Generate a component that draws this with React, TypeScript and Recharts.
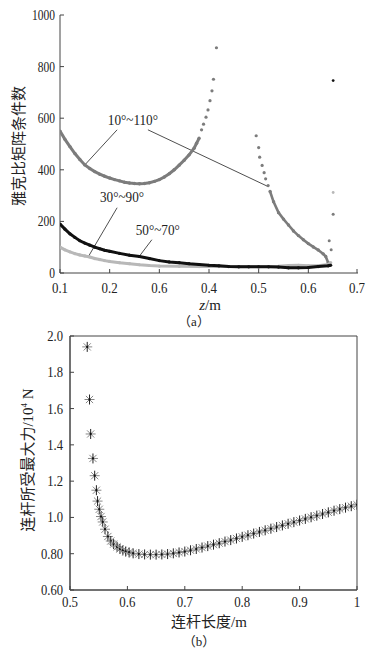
import {
  ScatterChart,
  Scatter,
  XAxis,
  YAxis,
  ReferenceLine,
  ReferenceDot,
  ReferenceArea,
  Label,
} from "recharts";

const serif = "'Liberation Serif', 'Times New Roman', serif";
const mixed = "'Liberation Serif', 'Noto Sans CJK SC', serif";

// ---- chart (a): Jacobian condition number vs z ----
const zTicks = [0.1, 0.2, 0.3, 0.4, 0.5, 0.6, 0.7];
const zTickLabels = ["0.1", "0.2", "0.6", "0.4", "0.5", "0.6", "0.7"];
const condTicks = [0, 200, 400, 600, 800, 1000];
const condTickLabels = ["0", "200", "400", "600", "800", "1000"];

// 10°~110° (gray)
const grayLeftZ = [0.1, 0.11, 0.12, 0.13, 0.14, 0.15, 0.16, 0.17, 0.18, 0.19, 0.2, 0.21, 0.22, 0.23, 0.24, 0.25, 0.26, 0.27, 0.28, 0.29, 0.3, 0.31, 0.32, 0.33, 0.34, 0.35, 0.36, 0.37, 0.375, 0.38];
const grayLeftV = [550, 518, 490, 463, 440, 419, 405, 393, 383, 375, 368, 362, 357, 352, 349, 347, 346, 347, 350, 355, 362, 372, 385, 400, 418, 437, 458, 484, 503, 522];
const grayPeakZ = [0.385, 0.389, 0.394, 0.398, 0.402, 0.406, 0.409, 0.415];
const grayPeakV = [555, 577, 604, 632, 668, 706, 751, 873];
const grayRightSparseZ = [0.495, 0.5, 0.502, 0.507, 0.511, 0.514, 0.519];
const grayRightSparseV = [532, 486, 449, 417, 389, 365, 339];
const grayRightZ = [0.523, 0.53, 0.54, 0.55, 0.56, 0.57, 0.58, 0.59, 0.6, 0.61, 0.62, 0.63, 0.635, 0.64];
const grayRightV = [316, 276, 234, 209, 186, 163, 145, 129, 114, 101, 89, 74, 64, 40];
const grayEndZ = [0.642, 0.646, 0.65];
const grayEndV = [125, 90, 228];

// 50°~70° (black)
const blackZ = [0.1, 0.11, 0.12, 0.13, 0.14, 0.15, 0.16, 0.17, 0.18, 0.19, 0.2, 0.22, 0.24, 0.26, 0.28, 0.3, 0.32, 0.34, 0.36, 0.38, 0.4, 0.42, 0.44, 0.46, 0.48, 0.5, 0.52, 0.54, 0.56, 0.58, 0.6, 0.62, 0.64, 0.645];
const blackV = [190, 170, 152, 138, 125, 116, 108, 100, 94, 88, 84, 76, 69, 64, 56, 48, 43, 40, 36, 33, 30, 28, 25, 24, 24, 24, 24, 23, 20, 20, 21, 25, 28, 30];
const blackEndZ = [0.65];
const blackEndV = [746];

// 30°~90° (light gray)
const lightZ = [0.1, 0.11, 0.12, 0.13, 0.14, 0.15, 0.16, 0.17, 0.18, 0.19, 0.2, 0.22, 0.24, 0.26, 0.28, 0.3, 0.34, 0.38, 0.42, 0.46, 0.5, 0.54, 0.56, 0.58, 0.6, 0.62, 0.64, 0.645];
const lightV = [100, 90, 82, 75, 70, 66, 62, 56, 52, 48, 45, 40, 36, 32, 29, 27, 26, 25, 25, 25, 25, 26, 29, 30, 28, 28, 33, 40];
const lightEndZ = [0.65];
const lightEndV = [312];

// ---- chart (b): max rod force vs rod length ----
const lenTicks = [0.5, 0.6, 0.7, 0.8, 0.9, 1.0];
const lenTickLabels = ["0.5", "0.6", "0.7", "0.8", "0.9", "1"];
const forceTicks = [0.6, 0.8, 1.0, 1.2, 1.4, 1.6, 1.8, 2.0];
const forceTickLabels = ["0.60", "0.80", "1.0", "1.2", "1.4", "1.6", "1.8", "2.0"];

const rodLength = [0.53, 0.534, 0.536, 0.54, 0.543, 0.546, 0.548, 0.551, 0.554, 0.557, 0.561, 0.566, 0.571, 0.576, 0.582, 0.587, 0.592, 0.597, 0.603, 0.61, 0.62, 0.63, 0.64, 0.65, 0.66, 0.67, 0.68, 0.69, 0.7, 0.71, 0.72, 0.73, 0.74, 0.75, 0.76, 0.77, 0.78, 0.79, 0.8, 0.81, 0.82, 0.83, 0.84, 0.85, 0.86, 0.87, 0.88, 0.89, 0.9, 0.91, 0.92, 0.93, 0.94, 0.95, 0.96, 0.97, 0.98, 0.99, 1.0];
const maxForce = [1.94, 1.65, 1.46, 1.325, 1.23, 1.15, 1.09, 1.045, 1.005, 0.975, 0.935, 0.895, 0.87, 0.853, 0.838, 0.826, 0.818, 0.812, 0.807, 0.802, 0.798, 0.796, 0.795, 0.795, 0.796, 0.798, 0.802, 0.807, 0.812, 0.819, 0.826, 0.834, 0.842, 0.85, 0.858, 0.867, 0.875, 0.884, 0.893, 0.902, 0.911, 0.92, 0.929, 0.938, 0.947, 0.956, 0.965, 0.974, 0.983, 0.992, 1.001, 1.01, 1.019, 1.028, 1.037, 1.046, 1.054, 1.062, 1.07];

const zip = (xs: number[], ys: number[]) => xs.map((x, i) => ({ x, y: ys[i] }));

const GRAY = "#7c7c7c";
const LIGHT = "#b8b8b8";
const BLACK = "#111";
const AXIS = "#444";

function dot(color: string, r: number) {
  return (p: any) => <circle cx={p.cx} cy={p.cy} r={r} fill={color} />;
}

function star(p: any) {
  const { cx, cy } = p;
  const s = 5;
  const d = 3.6;
  return (
    <g>
      <line x1={cx - s} y1={cy} x2={cx + s} y2={cy} stroke="#888" strokeWidth={1} />
      <line x1={cx - d} y1={cy - d} x2={cx + d} y2={cy + d} stroke="#888" strokeWidth={1} />
      <line x1={cx - d} y1={cy + d} x2={cx + d} y2={cy - d} stroke="#888" strokeWidth={1} />
      <line x1={cx} y1={cy - s} x2={cx} y2={cy + s} stroke="#222" strokeWidth={1} />
      <circle cx={cx} cy={cy} r={1.1} fill="#111" />
    </g>
  );
}

function xTick(ticks: number[], labels: string[], sx: number, dy: number) {
  return (p: any) => {
    const i = ticks.findIndex((t) => Math.abs(t - p.payload.value) < 1e-9);
    return (
      <g>
        <line x1={p.x} y1={p.y} x2={p.x} y2={p.y - 4} stroke={AXIS} />
        <text
          transform={`translate(${p.x},${p.y + dy}) scale(${sx},1)`}
          textAnchor="middle"
          fontSize={15}
          fontFamily={serif}
          fill="#222"
        >
          {labels[i]}
        </text>
      </g>
    );
  };
}

function yTick(ticks: number[], labels: string[], sx: number, gap: number) {
  return (p: any) => {
    const i = ticks.findIndex((t) => Math.abs(t - p.payload.value) < 1e-9);
    return (
      <g>
        <line x1={p.x} y1={p.y} x2={p.x + 4} y2={p.y} stroke={AXIS} />
        <text
          transform={`translate(${p.x - gap},${p.y + 5}) scale(${sx},1)`}
          textAnchor="end"
          fontSize={14}
          fontFamily={serif}
          fill="#222"
        >
          {labels[i]}
        </text>
      </g>
    );
  };
}

function note(text: string) {
  return (p: any) => (
    <text
      transform={`translate(${p.viewBox.x},${p.viewBox.y + 5}) scale(0.88,1)`}
      textAnchor="middle"
      fontSize={15}
      fontFamily={serif}
      fill="#222"
    >
      {text}
    </text>
  );
}

function ChartA() {
  return (
    <ScatterChart width={367} height={330} margin={{ top: 15, right: 9, bottom: 0, left: 0 }}>
      <XAxis
        type="number"
        dataKey="x"
        domain={[0.1, 0.7]}
        ticks={zTicks}
        tickSize={0}
        tickMargin={0}
        axisLine={{ stroke: AXIS }}
        tickLine={false}
        tick={xTick(zTicks, zTickLabels, 0.86, 20)}
        height={57}
        allowDataOverflow
      >
        <Label
          content={(p: any) => (
            <g>
              <text x={210} y={p.viewBox.y + 37} textAnchor="middle" fontSize={15} fontFamily={serif} fill="#222">
                <tspan fontStyle="italic">z</tspan>/m
              </text>
              <text x={194} y={p.viewBox.y + 53} textAnchor="middle" fontSize={13} fontFamily={mixed} fill="#222">
                （a）
              </text>
            </g>
          )}
        />
      </XAxis>
      <YAxis
        type="number"
        dataKey="y"
        domain={[0, 1000]}
        ticks={condTicks}
        tickSize={0}
        tickMargin={0}
        axisLine={{ stroke: AXIS }}
        tickLine={false}
        tick={yTick(condTicks, condTickLabels, 0.82, 5)}
        width={60}
        allowDataOverflow
      >
        <Label
          content={() => (
            <text
              transform="translate(24,146) rotate(-90)"
              textAnchor="middle"
              fontSize={15}
              fontFamily="'Noto Sans CJK SC', sans-serif"
              fill="#222"
            >
              雅克比矩阵条件数
            </text>
          )}
        />
      </YAxis>

      <Scatter data={zip(grayLeftZ, grayLeftV)} line={{ stroke: GRAY, strokeWidth: 3 }} shape={dot(GRAY, 1.7)} isAnimationActive={false} />
      <Scatter data={zip(grayPeakZ, grayPeakV)} shape={dot(GRAY, 1.6)} isAnimationActive={false} />
      <Scatter data={zip(grayRightSparseZ, grayRightSparseV)} shape={dot(GRAY, 1.6)} isAnimationActive={false} />
      <Scatter data={zip(grayRightZ, grayRightV)} line={{ stroke: GRAY, strokeWidth: 2.6 }} shape={dot(GRAY, 1.7)} isAnimationActive={false} />
      <Scatter data={zip(grayEndZ, grayEndV)} shape={dot(GRAY, 1.5)} isAnimationActive={false} />

      <Scatter data={zip(lightZ, lightV)} line={{ stroke: LIGHT, strokeWidth: 3 }} shape={dot(LIGHT, 1.6)} isAnimationActive={false} />
      <Scatter data={zip(lightEndZ, lightEndV)} shape={dot(LIGHT, 1.4)} isAnimationActive={false} />

      <Scatter data={zip(blackZ, blackV)} line={{ stroke: BLACK, strokeWidth: 3 }} shape={dot(BLACK, 1.6)} isAnimationActive={false} />
      <Scatter data={zip(blackEndZ, blackEndV)} shape={dot(BLACK, 1.4)} isAnimationActive={false} />

      <ReferenceLine segment={[{ x: 0.215, y: 555 }, { x: 0.15, y: 419 }]} stroke="#222" strokeWidth={0.8} />
      <ReferenceLine segment={[{ x: 0.277, y: 555 }, { x: 0.519, y: 335 }]} stroke="#222" strokeWidth={0.8} />
      <ReferenceLine segment={[{ x: 0.215, y: 253 }, { x: 0.156, y: 60 }]} stroke="#222" strokeWidth={0.8} />
      <ReferenceLine segment={[{ x: 0.285, y: 129 }, { x: 0.261, y: 68 }]} stroke="#222" strokeWidth={0.8} />

      <ReferenceDot x={0.247} y={593} r={0.1} fill="none" stroke="none" label={note("10°~110°")} />
      <ReferenceDot x={0.225} y={295} r={0.1} fill="none" stroke="none" label={note("30°~90°")} />
      <ReferenceDot x={0.297} y={168} r={0.1} fill="none" stroke="none" label={note("50°~70°")} />
    </ScatterChart>
  );
}

function ChartB() {
  return (
    <ScatterChart width={367} height={335} margin={{ top: 16, right: 10, bottom: 0, left: 0 }}>
      <XAxis
        type="number"
        dataKey="x"
        domain={[0.5, 1]}
        ticks={lenTicks}
        tickSize={0}
        tickMargin={0}
        axisLine={{ stroke: AXIS }}
        tickLine={false}
        tick={xTick(lenTicks, lenTickLabels, 0.86, 17)}
        height={65}
        allowDataOverflow
      >
        <Label
          content={(p: any) => (
            <g>
              <text x={209} y={p.viewBox.y + 37} textAnchor="middle" fontSize={15} fontFamily={mixed} fill="#222">
                连杆长度/m
              </text>
              <text x={199} y={p.viewBox.y + 56} textAnchor="middle" fontSize={13} fontFamily={mixed} fill="#222">
                （b）
              </text>
            </g>
          )}
        />
      </XAxis>
      <YAxis
        type="number"
        dataKey="y"
        domain={[0.6, 2.0]}
        ticks={forceTicks}
        tickSize={0}
        tickMargin={0}
        axisLine={{ stroke: AXIS }}
        tickLine={false}
        tick={yTick(forceTicks, forceTickLabels, 0.9, 7)}
        width={70}
        allowDataOverflow
      >
        <Label
          content={() => (
            <text
              transform="translate(33,140) rotate(-90)"
              textAnchor="middle"
              fontSize={15}
              fontFamily={mixed}
              fill="#222"
            >
              连杆所受最大力/10<tspan dy={-6} fontSize={9}>4</tspan>
              <tspan dy={6}> N</tspan>
            </text>
          )}
        />
      </YAxis>
      <ReferenceArea x1={0.5} x2={1} y1={0.6} y2={2.0} fill="none" stroke={AXIS} strokeWidth={1} />
      <Scatter data={zip(rodLength, maxForce)} shape={star} isAnimationActive={false} />
    </ScatterChart>
  );
}

export default function App() {
  return (
    <div style={{ position: "absolute", left: 0, top: 0, width: 367, height: 655, background: "#fff" }}>
      <div style={{ position: "absolute", left: 0, top: 0 }}>
        <ChartA />
      </div>
      <div style={{ position: "absolute", left: 0, top: 320 }}>
        <ChartB />
      </div>
    </div>
  );
}
